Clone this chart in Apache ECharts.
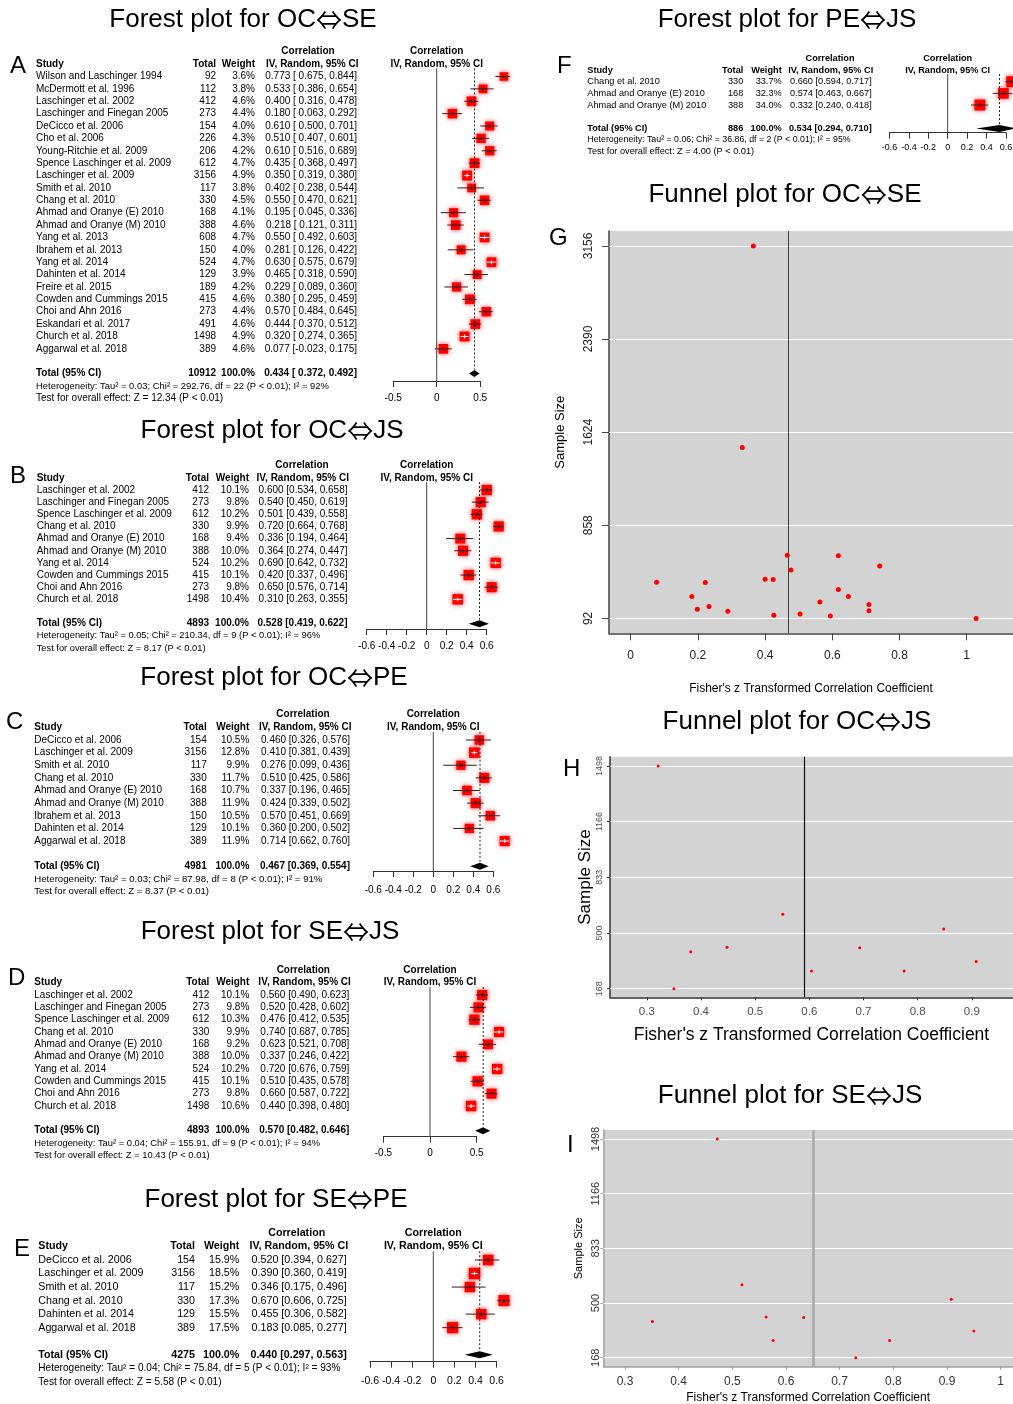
<!DOCTYPE html>
<html>
<head>
<meta charset="utf-8">
<script src="https://cdn.jsdelivr.net/npm/echarts@6/dist/echarts.min.js"></script>
<style>
  html, body { margin: 0; padding: 0; background: #fff; }
  #chart { width: 1013px; height: 1404px; }
</style>
</head>
<body>
<div id="chart"></div>
<script>
var FONT = "'Liberation Sans', Arial, Helvetica, sans-serif";

// ---- A: OC <-> SE
var studiesA = ["Wilson and Laschinger 1994", "McDermott et al. 1996", "Laschinger et al. 2002", "Laschinger and Finegan 2005",
  "DeCicco et al. 2006", "Cho et al. 2006", "Young-Ritchie et al. 2009", "Spence Laschinger et al. 2009", "Laschinger et al. 2009",
  "Smith et al. 2010", "Chang et al. 2010", "Ahmad and Oranye (E) 2010", "Ahmad and Oranye (M) 2010", "Yang et al. 2013",
  "Ibrahem et al. 2013", "Yang et al. 2014", "Dahinten et al. 2014", "Freire et al. 2015", "Cowden and Cummings 2015",
  "Choi and Ahn 2016", "Eskandari et al. 2017", "Church et al. 2018", "Aggarwal et al. 2018"];
var totalA = [92, 112, 412, 273, 154, 226, 206, 612, 3156, 117, 330, 168, 388, 608, 150, 524, 129, 189, 415, 273, 491, 1498, 389];
var weightA = [3.6, 3.8, 4.6, 4.4, 4.0, 4.3, 4.2, 4.7, 4.9, 3.8, 4.5, 4.1, 4.6, 4.7, 4.0, 4.7, 3.9, 4.2, 4.6, 4.4, 4.6, 4.9, 4.6];
var corrA = [0.773, 0.533, 0.400, 0.180, 0.610, 0.510, 0.610, 0.435, 0.350, 0.402, 0.550, 0.195, 0.218, 0.550, 0.281, 0.630, 0.465, 0.229, 0.380, 0.570, 0.444, 0.320, 0.077];
var lowerA = [0.675, 0.386, 0.316, 0.063, 0.500, 0.407, 0.516, 0.368, 0.319, 0.238, 0.470, 0.045, 0.121, 0.492, 0.126, 0.575, 0.318, 0.089, 0.295, 0.484, 0.370, 0.274, -0.023];
var upperA = [0.844, 0.654, 0.478, 0.292, 0.701, 0.601, 0.689, 0.497, 0.380, 0.544, 0.621, 0.336, 0.311, 0.603, 0.422, 0.679, 0.590, 0.360, 0.459, 0.645, 0.512, 0.365, 0.175];
var pooledA = [0.434, 0.372, 0.492];
var totalNA = 10912;
var hetA = "Heterogeneity: Tau² = 0.03; Chi² = 292.76, df = 22 (P < 0.01); I² = 92%";
var testA = "Test for overall effect: Z = 12.34 (P < 0.01)";

// ---- B: OC <-> JS
var studiesB = ["Laschinger et al. 2002", "Laschinger and Finegan 2005", "Spence Laschinger et al. 2009", "Chang et al. 2010",
  "Ahmad and Oranye (E) 2010", "Ahmad and Oranye (M) 2010", "Yang et al. 2014", "Cowden and Cummings 2015", "Choi and Ahn 2016", "Church et al. 2018"];
var totalB = [412, 273, 612, 330, 168, 388, 524, 415, 273, 1498];
var weightB = [10.1, 9.8, 10.2, 9.9, 9.4, 10.0, 10.2, 10.1, 9.8, 10.4];
var corrB = [0.600, 0.540, 0.501, 0.720, 0.336, 0.364, 0.690, 0.420, 0.650, 0.310];
var lowerB = [0.534, 0.450, 0.439, 0.664, 0.194, 0.274, 0.642, 0.337, 0.576, 0.263];
var upperB = [0.658, 0.619, 0.558, 0.768, 0.464, 0.447, 0.732, 0.496, 0.714, 0.355];
var pooledB = [0.528, 0.419, 0.622];
var totalNB = 4893;
var hetB = "Heterogeneity: Tau² = 0.05; Chi² = 210.34, df = 9 (P < 0.01); I² = 96%";
var testB = "Test for overall effect: Z = 8.17 (P < 0.01)";

// ---- C: OC <-> PE
var studiesC = ["DeCicco et al. 2006", "Laschinger et al. 2009", "Smith et al. 2010", "Chang et al. 2010", "Ahmad and Oranye (E) 2010",
  "Ahmad and Oranye (M) 2010", "Ibrahem et al. 2013", "Dahinten et al. 2014", "Aggarwal et al. 2018"];
var totalC = [154, 3156, 117, 330, 168, 388, 150, 129, 389];
var weightC = [10.5, 12.8, 9.9, 11.7, 10.7, 11.9, 10.5, 10.1, 11.9];
var corrC = [0.460, 0.410, 0.276, 0.510, 0.337, 0.424, 0.570, 0.360, 0.714];
var lowerC = [0.326, 0.381, 0.099, 0.425, 0.196, 0.339, 0.451, 0.200, 0.662];
var upperC = [0.576, 0.439, 0.436, 0.586, 0.465, 0.502, 0.669, 0.502, 0.760];
var pooledC = [0.467, 0.369, 0.554];
var totalNC = 4981;
var hetC = "Heterogeneity: Tau² = 0.03; Chi² = 87.98, df = 8 (P < 0.01); I² = 91%";
var testC = "Test for overall effect: Z = 8.37 (P < 0.01)";

// ---- D: SE <-> JS
var studiesD = ["Laschinger et al. 2002", "Laschinger and Finegan 2005", "Spence Laschinger et al. 2009", "Chang et al. 2010",
  "Ahmad and Oranye (E) 2010", "Ahmad and Oranye (M) 2010", "Yang et al. 2014", "Cowden and Cummings 2015", "Choi and Ahn 2016", "Church et al. 2018"];
var totalD = [412, 273, 612, 330, 168, 388, 524, 415, 273, 1498];
var weightD = [10.1, 9.8, 10.3, 9.9, 9.2, 10.0, 10.2, 10.1, 9.8, 10.6];
var corrD = [0.560, 0.520, 0.476, 0.740, 0.623, 0.337, 0.720, 0.510, 0.660, 0.440];
var lowerD = [0.490, 0.428, 0.412, 0.687, 0.521, 0.246, 0.676, 0.435, 0.587, 0.398];
var upperD = [0.623, 0.602, 0.535, 0.785, 0.708, 0.422, 0.759, 0.578, 0.722, 0.480];
var pooledD = [0.570, 0.482, 0.646];
var totalND = 4893;
var hetD = "Heterogeneity: Tau² = 0.04; Chi² = 155.91, df = 9 (P < 0.01); I² = 94%";
var testD = "Test for overall effect: Z = 10.43 (P < 0.01)";

// ---- E: SE <-> PE
var studiesE = ["DeCicco et al. 2006", "Laschinger et al. 2009", "Smith et al. 2010", "Chang et al. 2010", "Dahinten et al. 2014", "Aggarwal et al. 2018"];
var totalE = [154, 3156, 117, 330, 129, 389];
var weightE = [15.9, 18.5, 15.2, 17.3, 15.5, 17.5];
var corrE = [0.520, 0.390, 0.346, 0.670, 0.455, 0.183];
var lowerE = [0.394, 0.360, 0.175, 0.606, 0.306, 0.085];
var upperE = [0.627, 0.419, 0.496, 0.725, 0.582, 0.277];
var pooledE = [0.440, 0.297, 0.563];
var totalNE = 4275;
var hetE = "Heterogeneity: Tau² = 0.04; Chi² = 75.84, df = 5 (P < 0.01); I² = 93%";
var testE = "Test for overall effect: Z = 5.58 (P < 0.01)";

// ---- F: PE <-> JS
var studiesF = ["Chang et al. 2010", "Ahmad and Oranye (E) 2010", "Ahmad and Oranye (M) 2010"];
var totalF = [330, 168, 388];
var weightF = [33.7, 32.3, 34.0];
var corrF = [0.660, 0.574, 0.332];
var lowerF = [0.594, 0.463, 0.240];
var upperF = [0.717, 0.667, 0.418];
var pooledF = [0.534, 0.294, 0.710];
var totalNF = 886;
var hetF = "Heterogeneity: Tau² = 0.06; Chi² = 36.86, df = 2 (P < 0.01); I² = 95%";
var testF = "Test for overall effect: Z = 4.00 (P < 0.01)";

// ---- funnel plots (Fisher z vs sample size)
var zG = [1.028, 0.594, 0.424, 0.182, 0.709, 0.563, 0.709, 0.466, 0.365, 0.426, 0.618, 0.198, 0.222, 0.618, 0.289, 0.741, 0.504, 0.233, 0.400, 0.648, 0.477, 0.332, 0.077];
var zH = [0.693, 0.604, 0.551, 0.908, 0.350, 0.381, 0.848, 0.448, 0.775, 0.321];
var zI = [0.633, 0.576, 0.518, 0.950, 0.730, 0.351, 0.908, 0.563, 0.793, 0.472];
var pooledZ = [0.465, 0.587, 0.648];
var sizeTicksG = [92, 858, 1624, 2390, 3156];
var sizeLabelsG = ["92", "858", "1624", "2390", "3156"];
var sizeTicksHI = [168, 500.5, 833, 1165.5, 1498];
var sizeLabelsHI = ["168", "500", "833", "1166", "1498"];
var zTicksG = [0, 0.2, 0.4, 0.6, 0.8, 1];
var zTicksH = [0.3, 0.4, 0.5, 0.6, 0.7, 0.8, 0.9];
var zTicksI = [0.3, 0.4, 0.5, 0.6, 0.7, 0.8, 0.9, 1];

// [before arrow, after arrow, center x, center y]
var titles = [
  ["Forest plot for OC", "SE", 243, 20], ["Forest plot for PE", "JS", 787, 20], ["Funnel plot for OC", "SE", 785, 195],
  ["Forest plot for OC", "JS", 272, 431], ["Forest plot for OC", "PE", 274, 678], ["Funnel plot for OC", "JS", 797, 722],
  ["Forest plot for SE", "JS", 270, 932], ["Funnel plot for SE", "JS", 790, 1096], ["Forest plot for SE", "PE", 276, 1200]
];
var letters = [["A", 10, 66], ["B", 10, 476], ["C", 6, 722], ["D", 8, 978], ["E", 14, 1249], ["F", 557, 66],
  ["G", 549, 238], ["H", 563, 769], ["I", 567, 1145]];

// layout of each forest panel (pixel positions of table columns and plot)
var panels = [
  { studies: studiesA, total: totalA, weight: weightA, corr: corrA, lower: lowerA, upper: upperA, pooled: pooledA, totalN: totalNA, het: hetA, test: testA,
    left: 393.2, width: 87, row0: 76.5, gap: 12.38, axisY: 381, xMin: -0.5, xMax: 0.5, step: 0.5,
    cols: [36, 216, 255, 357, 308], fs: 10, hetFs: 9.45, testFs: 10, axFs: 10, sq: 10, margin: 12 },
  { studies: studiesB, total: totalB, weight: weightB, corr: corrB, lower: lowerB, upper: upperB, pooled: pooledB, totalN: totalNB, het: hetB, test: testB,
    left: 366.7, width: 120, row0: 490, gap: 12.15, axisY: 629, xMin: -0.6, xMax: 0.6, step: 0.2,
    cols: [36.7, 209, 249, 347.5, 302], fs: 10, hetFs: 9.3, testFs: 9.3, axFs: 10, sq: 10.5, margin: 12 },
  { studies: studiesC, total: totalC, weight: weightC, corr: corrC, lower: lowerC, upper: upperC, pooled: pooledC, totalN: totalNC, het: hetC, test: testC,
    left: 373.3, width: 120, row0: 740, gap: 12.63, axisY: 871, xMin: -0.6, xMax: 0.6, step: 0.2,
    cols: [34.3, 206.7, 249.3, 350, 303], fs: 10, hetFs: 9.65, testFs: 9.65, axFs: 10, sq: 10.5, margin: 14 },
  { studies: studiesD, total: totalD, weight: weightD, corr: corrD, lower: lowerD, upper: upperD, pooled: pooledD, totalN: totalND, het: hetD, test: testD,
    left: 383.35, width: 93.3, row0: 995, gap: 12.33, axisY: 1136.7, xMin: -0.5, xMax: 0.5, step: 0.5,
    cols: [34.3, 209.3, 249.3, 349.3, 303.3], fs: 10, hetFs: 9.4, testFs: 9.4, axFs: 10, sq: 10.5, margin: 12 },
  { studies: studiesE, total: totalE, weight: weightE, corr: corrE, lower: lowerE, upper: upperE, pooled: pooledE, totalN: totalNE, het: hetE, test: testE,
    left: 370, width: 126.6, row0: 1260, gap: 13.53, axisY: 1361.7, xMin: -0.6, xMax: 0.6, step: 0.2,
    cols: [38.3, 195, 239.3, 346.7, 296.7], fs: 10.7, hetFs: 10.1, testFs: 10.1, axFs: 10.5, sq: 11.5, margin: 14 },
  { studies: studiesF, total: totalF, weight: weightF, corr: corrF, lower: lowerF, upper: upperF, pooled: pooledF, totalN: totalNF, het: hetF, test: testF,
    left: 889.5, width: 116.4, row0: 81.7, gap: 11.67, axisY: 132.7, xMin: -0.6, xMax: 0.6, step: 0.2,
    cols: [587.3, 743.3, 781.7, 871.7, 830], fs: 9.2, hetFs: 8.8, testFs: 9.2, axFs: 9, sq: 11, margin: 10 }
];

function txt(x, y, s, font, align) {
  return { type: 'text', x: x, y: y, silent: true,
    style: { text: s, font: font, fill: '#000', align: align, verticalAlign: 'middle', textAlign: align, textVerticalAlign: 'middle' } };
}

function ciText(r, lo, hi, pad) {
  return r.toFixed(3) + ' [' + (pad && lo >= 0 ? ' ' : '') + lo.toFixed(3) + ', ' + hi.toFixed(3) + ']';
}

function studyRow(p) {
  var pad = p.lower.some(function (v) { return v < 0; });
  var maxW = Math.max.apply(null, p.weight);
  var f = p.fs + 'px ' + FONT;
  return function (params, api) {
    var i = params.dataIndex;
    var c = api.coord([api.value(0), api.value(1)]);
    var y = c[1];
    var lo = api.coord([api.value(2), api.value(1)])[0];
    var hi = api.coord([api.value(3), api.value(1)])[0];
    var s = p.sq * Math.sqrt(api.value(4) / maxW);
    var inner = (hi - lo) <= s ? '#fff' : '#222';
    return { type: 'group', children: [
      { type: 'line', shape: { x1: lo, y1: y, x2: hi, y2: y }, style: { stroke: '#222', lineWidth: 1 } },
      { type: 'rect', shape: { x: c[0] - s / 2, y: y - s / 2, width: s, height: s },
        style: { fill: '#ff0000', shadowBlur: 5, shadowColor: 'rgba(255,0,0,0.75)' } },
      { type: 'line', shape: { x1: Math.max(lo, c[0] - s / 2), y1: y, x2: Math.min(hi, c[0] + s / 2), y2: y }, style: { stroke: inner, lineWidth: 1 } },
      { type: 'line', shape: { x1: c[0], y1: y - 2, x2: c[0], y2: y + 2 }, style: { stroke: inner, lineWidth: 1 } },
      txt(p.cols[0], y, p.studies[i], f, 'left'),
      txt(p.cols[1], y, String(p.total[i]), f, 'right'),
      txt(p.cols[2], y, p.weight[i].toFixed(1) + '%', f, 'right'),
      txt(p.cols[3], y, ciText(p.corr[i], p.lower[i], p.upper[i], pad), f, 'right')
    ] };
  };
}

function summaryRow(p, yMax) {
  var pad = p.lower.some(function (v) { return v < 0; });
  var n = p.studies.length;
  var fb = 'bold ' + p.fs + 'px ' + FONT;
  return function (params, api) {
    var row = api.value(1);
    var c = api.coord([api.value(0), row]);
    var y = c[1];
    var lo = api.coord([api.value(2), row])[0];
    var hi = api.coord([api.value(3), row])[0];
    var yTop = api.coord([0, -0.65])[1];
    var yAx = api.coord([0, yMax])[1];
    var x0 = api.coord([0, row])[0];
    var xMid = api.coord([(p.xMin + p.xMax) / 2, row])[0];
    var yH1 = api.coord([0, -2])[1];
    var yH2 = api.coord([0, -1])[1];
    var yHet = api.coord([0, n + 2])[1];
    var yTest = api.coord([0, n + 3])[1];
    return { type: 'group', children: [
      { type: 'line', shape: { x1: x0, y1: yTop, x2: x0, y2: yAx }, style: { stroke: '#444', lineWidth: 1 } },
      { type: 'line', shape: { x1: c[0], y1: yTop, x2: c[0], y2: y - 4 }, style: { stroke: '#222', lineWidth: 1, lineDash: [2, 2] } },
      { type: 'polygon', shape: { points: [[lo, y], [c[0], y - 3.5], [hi, y], [c[0], y + 3.5]] }, style: { fill: '#000' } },
      txt(p.cols[4], yH1, 'Correlation', fb, 'center'),
      txt(xMid, yH1, 'Correlation', fb, 'center'),
      txt(xMid, yH2, 'IV, Random, 95% CI', fb, 'center'),
      txt(p.cols[0], yH2, 'Study', fb, 'left'),
      txt(p.cols[1], yH2, 'Total', fb, 'right'),
      txt(p.cols[2], yH2, 'Weight', fb, 'right'),
      txt(p.cols[3] + 1.5, yH2, 'IV, Random, 95% CI', fb, 'right'),
      txt(p.cols[0], y, 'Total (95% CI)', fb, 'left'),
      txt(p.cols[1], y, String(p.totalN), fb, 'right'),
      txt(p.cols[2], y, '100.0%', fb, 'right'),
      txt(p.cols[3], y, ciText(p.pooled[0], p.pooled[1], p.pooled[2], pad), fb, 'right'),
      txt(p.cols[0], yHet, p.het, p.hetFs + 'px ' + FONT, 'left'),
      txt(p.cols[0], yTest, p.test, p.testFs + 'px ' + FONT, 'left')
    ] };
  };
}

var grids = [], xAxes = [], yAxes = [], series = [];

panels.forEach(function (p, k) {
  var top = p.row0 - 2 * p.gap;
  var yMax = (p.axisY - p.row0) / p.gap;
  grids.push({ left: p.left, top: top, width: p.width, height: p.axisY - top, outerBoundsMode: 'none', containLabel: false });
  xAxes.push({ gridIndex: k, type: 'value', min: p.xMin, max: p.xMax, interval: p.step,
    axisLine: { show: true, onZero: false, lineStyle: { color: '#333', width: 1 } },
    axisTick: { show: true, length: 6, lineStyle: { color: '#333' } },
    axisLabel: { fontSize: p.axFs, color: '#000', margin: p.margin, fontFamily: FONT, showMinLabel: true, showMaxLabel: true },
    splitLine: { show: false } });
  yAxes.push({ gridIndex: k, type: 'value', inverse: true, min: -2, max: yMax, show: false, splitLine: { show: false } });
  series.push({ type: 'custom', xAxisIndex: k, yAxisIndex: k, clip: false, silent: true,
    data: p.corr.map(function (r, i) { return [r, i, p.lower[i], p.upper[i], p.weight[i]]; }),
    renderItem: studyRow(p) });
  series.push({ type: 'custom', xAxisIndex: k, yAxisIndex: k, clip: false, silent: true,
    data: [[p.pooled[0], p.studies.length + 1, p.pooled[1], p.pooled[2]]],
    renderItem: summaryRow(p, yMax) });
});

// funnel plots
var funnels = [
  { z: zG, n: totalA, pooled: pooledZ[0], grid: { left: 609, top: 231, right: 0, bottom: 1404 - 633.3 },
    xMin: -0.0646, xMax: 1.1378, yMin: -30.6, yMax: 3278.6, xTicks: zTicksG, yTicks: sizeTicksG, yLabels: sizeLabelsG,
    axisColor: '#444', axisWidth: 1.5, labelColor: '#222', xFs: 12, yFs: 12, xMargin: 16, yMargin: 14, tickLen: 7,
    xNameFs: 12, xNameGap: 49, yNameFs: 13, yNameGap: 42, dot: 5, vColor: '#404040', vWidth: 1 },
  { z: zH, n: totalB, pooled: pooledZ[1], grid: { left: 610, top: 756.7, right: 0, bottom: 1404 - 997.3 },
    xMin: 0.232, xMax: 0.976, yMin: 116.6, yMax: 1553.5, xTicks: zTicksH, yTicks: sizeTicksHI, yLabels: sizeLabelsHI,
    axisColor: '#333', axisWidth: 1.5, labelColor: '#4d4d4d', xFs: 11.5, yFs: 9, xMargin: 9, yMargin: 6, tickLen: 3,
    xNameFs: 17.5, xNameGap: 29, yNameFs: 17, yNameGap: 16, dot: 3, vColor: '#111', vWidth: 1.2 },
  { z: zI, n: totalD, pooled: pooledZ[2], grid: { left: 603.3, top: 1130, right: 0, bottom: 1404 - 1366.7 },
    xMin: 0.2596, xMax: 1.023, yMin: 113.3, yMax: 1552.7, xTicks: zTicksI, yTicks: sizeTicksHI, yLabels: sizeLabelsHI,
    axisColor: '#a0a0a0', axisWidth: 1.5, labelColor: '#333', xFs: 12, yFs: 11, xMargin: 9, yMargin: 2, tickLen: 3,
    xNameFs: 12, xNameGap: 25, yNameFs: 11, yNameGap: 19, dot: 3, vColor: '#a8a8a8', vWidth: 2.5 }
];

funnels.forEach(function (fp, j) {
  var k = panels.length + j;
  grids.push(Object.assign({ show: true, backgroundColor: '#d3d3d3', borderWidth: 0, outerBoundsMode: 'none', containLabel: false }, fp.grid));
  xAxes.push({ gridIndex: k, type: 'value', min: fp.xMin, max: fp.xMax,
    axisLine: { show: true, onZero: false, lineStyle: { color: fp.axisColor, width: fp.axisWidth } },
    axisTick: { show: true, customValues: fp.xTicks, length: fp.tickLen, lineStyle: { color: fp.axisColor } },
    axisLabel: { customValues: fp.xTicks, fontSize: fp.xFs, color: fp.labelColor, margin: fp.xMargin, fontFamily: FONT,
      formatter: function (v) { return String(Math.round(v * 10) / 10); } },
    splitLine: { show: false },
    name: "Fisher's z Transformed Correlation Coefficient", nameLocation: 'middle', nameGap: fp.xNameGap, nameMoveOverlap: false,
    nameTextStyle: { fontSize: fp.xNameFs, color: '#000', fontFamily: FONT } });
  yAxes.push({ gridIndex: k, type: 'value', min: fp.yMin, max: fp.yMax,
    axisLine: { show: true, onZero: false, lineStyle: { color: fp.axisColor, width: fp.axisWidth } },
    axisTick: { show: true, customValues: fp.yTicks, length: fp.tickLen, lineStyle: { color: fp.axisColor } },
    axisLabel: { customValues: fp.yTicks, rotate: 90, fontSize: fp.yFs, color: fp.labelColor, margin: fp.yMargin, fontFamily: FONT,
      formatter: function (v) { var ix = fp.yTicks.indexOf(v); return ix >= 0 ? fp.yLabels[ix] : String(v); } },
    splitLine: { show: false },
    name: 'Sample Size', nameLocation: 'middle', nameGap: fp.yNameGap, nameRotate: 90, nameMoveOverlap: false,
    nameTextStyle: { fontSize: fp.yNameFs, color: '#000', fontFamily: FONT } });
  var lines = fp.yTicks.map(function (v) { return { yAxis: v }; });
  lines.push({ xAxis: fp.pooled, lineStyle: { color: fp.vColor, width: fp.vWidth, type: 'solid' } });
  series.push({ type: 'scatter', xAxisIndex: k, yAxisIndex: k, z: 3, silent: true,
    symbol: 'circle', symbolSize: fp.dot, itemStyle: { color: '#ff0000', opacity: 1 },
    data: fp.z.map(function (z, i) { return [z, fp.n[i]]; }),
    markLine: { z: 1, silent: true, symbol: 'none', animation: false, label: { show: false },
      lineStyle: { color: '#ffffff', width: 1, type: 'solid' }, data: lines } });
});

var graphics = [];
titles.forEach(function (t) {
  graphics.push({ type: 'text', x: t[2], y: t[3], silent: true,
    style: { text: '{a|' + t[0] + '}{b|⇔}{a|' + t[1] + '}', align: 'center', verticalAlign: 'middle', textAlign: 'center', textVerticalAlign: 'middle',
      rich: { a: { fontSize: 26, fontFamily: FONT, fill: '#000', color: '#000' },
              b: { fontSize: 26, fontFamily: "'Noto Sans CJK SC', 'DejaVu Sans', sans-serif", fill: '#000', color: '#000' } } } });
});
letters.forEach(function (t) {
  graphics.push({ type: 'text', x: t[1], y: t[2], silent: true,
    style: { text: t[0], font: '24px ' + FONT, fill: '#000', align: 'left', verticalAlign: 'middle', textAlign: 'left', textVerticalAlign: 'middle' } });
});

var myChart = echarts.init(document.getElementById('chart'));
myChart.setOption({
  backgroundColor: '#ffffff',
  animation: false,
  textStyle: { fontFamily: FONT },
  grid: grids,
  xAxis: xAxes,
  yAxis: yAxes,
  series: series,
  graphic: graphics
});
</script>
</body>
</html>
